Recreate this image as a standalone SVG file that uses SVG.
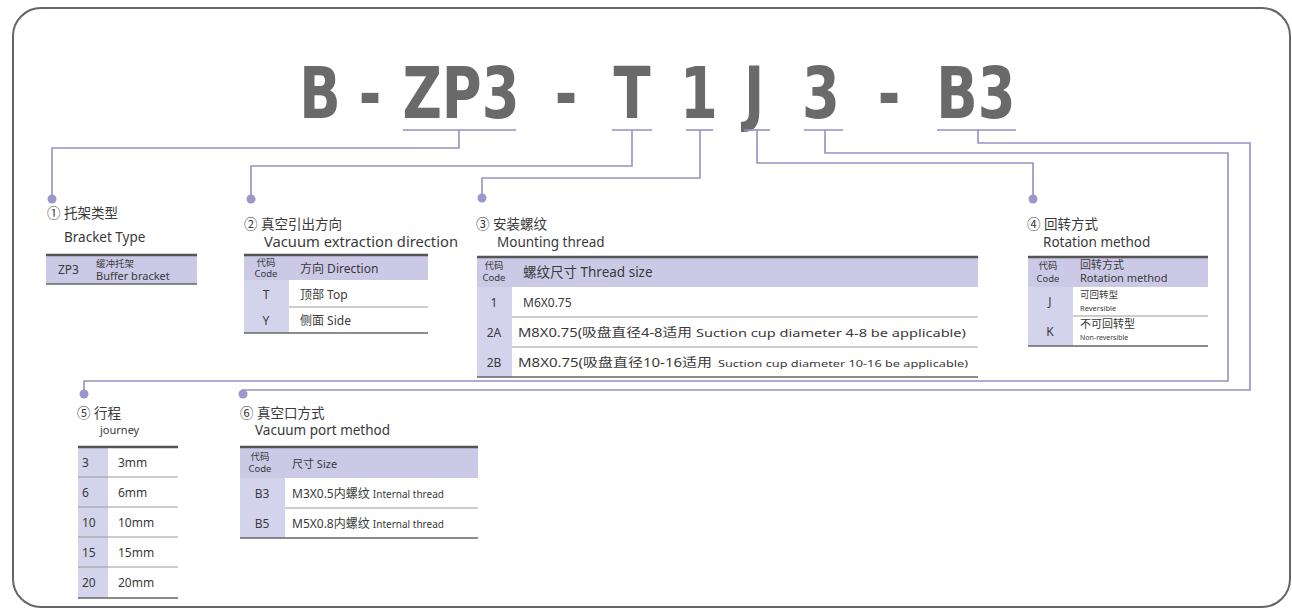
<svg xmlns="http://www.w3.org/2000/svg" width="1292" height="611" viewBox="0 0 1292 611">
<defs>
<style>
.t{font-family:"Noto Sans","Noto Sans CJK SC",sans-serif;fill:#3a3a3a}
.h{font-size:13.5px}
.s{font-size:12px}
.xs{font-size:9.5px}
.c{text-anchor:middle}
.title{font-family:"Liberation Sans Narrow","DejaVu Sans Condensed",sans-serif;font-weight:bold;font-size:72px;fill:#6a6a6a;text-anchor:middle}
.conn{fill:none;stroke:#9391c4;stroke-width:1.6}
.ul{stroke:#9391c4;stroke-width:1.6}
.dot{fill:#9a98cb}
.fill{fill:#cbc9e6}
.fill2{fill:#d4d3ec}
.top{stroke:#555;stroke-width:2.5}
.sep{stroke:#9a9a9a;stroke-width:1}
.bot{stroke:#666;stroke-width:1.6}
</style>
<clipPath id="clip6"><rect x="238" y="440" width="241" height="110"/></clipPath>
</defs>
<rect x="13" y="8" width="1277" height="599" rx="28" ry="28" fill="#fff" stroke="#666" stroke-width="2"/>

<g id="title">
<text class="title" transform="translate(320 118) scale(0.84 1)">B</text>
<text class="title" transform="translate(370 118) scale(0.84 1)">-</text>
<text class="title" transform="translate(461 118) scale(0.84 1)">ZP3</text>
<text class="title" transform="translate(566 118) scale(0.84 1)">-</text>
<text class="title" transform="translate(632 118) scale(0.84 1)">T</text>
<text class="title" transform="translate(699 118) scale(0.84 1)">1</text>
<text class="title" transform="translate(754 118) scale(0.84 1)">J</text>
<text class="title" transform="translate(821 118) scale(0.84 1)">3</text>
<text class="title" transform="translate(889 118) scale(0.84 1)">-</text>
<text class="title" transform="translate(976 118) scale(0.84 1)">B3</text>
</g>

<g id="connectors">
<line class="ul" x1="403" y1="130" x2="516" y2="130"/>
<line class="ul" x1="612" y1="130" x2="652" y2="130"/>
<line class="ul" x1="686" y1="130" x2="713" y2="130"/>
<line class="ul" x1="744" y1="130" x2="770" y2="130"/>
<line class="ul" x1="804" y1="130" x2="843" y2="130"/>
<line class="ul" x1="937" y1="130" x2="1016" y2="130"/>
<path class="conn" d="M459,130 V148 H52 V198"/>
<path class="conn" d="M632,130 V166 H251 V198"/>
<path class="conn" d="M700,130 V178 H482 V197"/>
<path class="conn" d="M757,130 V163 H1033 V198"/>
<path class="conn" d="M825,130 V153 H1228 V381 H84 V393"/>
<path class="conn" d="M978,130 V143 H1250 V390 H243 V393"/>
<circle class="dot" cx="52" cy="199" r="4.5"/>
<circle class="dot" cx="251" cy="199" r="4.5"/>
<circle class="dot" cx="482" cy="198" r="4.5"/>
<circle class="dot" cx="1033" cy="199" r="4.5"/>
<circle class="dot" cx="84" cy="394" r="4.5"/>
<circle class="dot" cx="243" cy="394" r="4.5"/>
</g>

<g id="node1">
<text class="t h" x="47" y="218">① 托架类型</text>
<text class="t h" x="64" y="242">Bracket Type</text>
<rect class="fill" x="46" y="255" width="151" height="29"/>
<line class="top" x1="46" y1="255" x2="197" y2="255"/>
<line class="bot" x1="46" y1="284" x2="197" y2="284"/>
<text class="t s" x="58" y="274">ZP3</text>
<text class="t xs" x="96" y="267">缓冲托架</text>
<text class="t" font-size="11" x="96" y="280">Buffer bracket</text>
</g>

<g id="node2">
<text class="t h" x="244" y="229">② 真空引出方向</text>
<text class="t h" x="264" y="247" textLength="194" lengthAdjust="spacingAndGlyphs">Vacuum extraction direction</text>
<rect class="fill" x="244" y="255" width="184" height="25"/>
<rect class="fill2" x="244" y="280" width="45" height="53"/>
<line class="top" x1="244" y1="255" x2="428" y2="255"/>
<line class="sep" x1="289" y1="307" x2="428" y2="307"/>
<line class="bot" x1="244" y1="333" x2="428" y2="333"/>
<text class="t xs c" x="266" y="266">代码</text>
<text class="t xs c" x="266" y="277">Code</text>
<text class="t s" x="300" y="273">方向 Direction</text>
<text class="t s c" x="266" y="299">T</text>
<text class="t s" x="300" y="299">顶部 Top</text>
<text class="t s c" x="266" y="325">Y</text>
<text class="t s" x="300" y="325">侧面 Side</text>
</g>

<g id="node3">
<text class="t h" x="476" y="229">③ 安装螺纹</text>
<text class="t h" x="497" y="247">Mounting thread</text>
<rect class="fill" x="477" y="257" width="501" height="30"/>
<rect class="fill2" x="477" y="287" width="35" height="90"/>
<line class="top" x1="477" y1="257" x2="978" y2="257"/>
<line class="sep" x1="512" y1="317" x2="978" y2="317"/>
<line class="sep" x1="512" y1="347" x2="978" y2="347"/>
<line class="bot" x1="477" y1="377" x2="978" y2="377"/>
<text class="t xs c" x="494" y="269">代码</text>
<text class="t xs c" x="494" y="281">Code</text>
<text class="t h" x="523" y="277">螺纹尺寸 Thread size</text>
<text class="t s c" x="494" y="307">1</text>
<text class="t s" x="523" y="307">M6X0.75</text>
<text class="t s c" x="494" y="337">2A</text>
<text class="t s" x="518" y="337" textLength="174" lengthAdjust="spacingAndGlyphs">M8X0.75(吸盘直径4-8适用</text>
<text class="t" font-size="11" x="696" y="337" textLength="270" lengthAdjust="spacingAndGlyphs">Suction cup diameter 4-8 be applicable)</text>
<text class="t s c" x="494" y="367">2B</text>
<text class="t s" x="518" y="367" textLength="194" lengthAdjust="spacingAndGlyphs">M8X0.75(吸盘直径10-16适用</text>
<text class="t xs" x="718" y="367" textLength="250" lengthAdjust="spacingAndGlyphs">Suction cup diameter 10-16 be applicable)</text>
</g>

<g id="node4">
<text class="t h" x="1027" y="229">④ 回转方式</text>
<text class="t h" x="1043" y="247">Rotation method</text>
<rect class="fill" x="1028" y="257" width="180" height="30"/>
<rect class="fill2" x="1028" y="287" width="45" height="59"/>
<line class="top" x1="1028" y1="257" x2="1208" y2="257"/>
<line class="sep" x1="1073" y1="316" x2="1208" y2="316"/>
<line class="bot" x1="1028" y1="346" x2="1208" y2="346"/>
<text class="t xs c" x="1048" y="269">代码</text>
<text class="t xs c" x="1048" y="282">Code</text>
<text class="t" font-size="11" x="1080" y="269">回转方式</text>
<text class="t" font-size="11" x="1080" y="282">Rotation method</text>
<text class="t s c" x="1050" y="306">J</text>
<text class="t xs" x="1080" y="298">可回转型</text>
<text class="t" font-size="7.5" x="1080" y="311">Reversible</text>
<text class="t s c" x="1050" y="336">K</text>
<text class="t" font-size="11" x="1080" y="328">不可回转型</text>
<text class="t" font-size="7" x="1080" y="340">Non-reversible</text>
</g>

<g id="node5">
<text class="t h" x="77" y="418">⑤ 行程</text>
<text class="t" font-size="11" x="100" y="434">journey</text>
<rect class="fill2" x="78" y="448" width="30" height="150"/>
<line class="top" x1="78" y1="447" x2="178" y2="447"/>
<line class="sep" x1="78" y1="477" x2="178" y2="477"/>
<line class="sep" x1="78" y1="507" x2="178" y2="507"/>
<line class="sep" x1="78" y1="537" x2="178" y2="537"/>
<line class="sep" x1="78" y1="567" x2="178" y2="567"/>
<line class="bot" x1="78" y1="598" x2="178" y2="598"/>
<text class="t s" x="82" y="467">3</text>
<text class="t s" x="118" y="467">3mm</text>
<text class="t s" x="82" y="497">6</text>
<text class="t s" x="118" y="497">6mm</text>
<text class="t s" x="82" y="527">10</text>
<text class="t s" x="118" y="527">10mm</text>
<text class="t s" x="82" y="557">15</text>
<text class="t s" x="118" y="557">15mm</text>
<text class="t s" x="82" y="587">20</text>
<text class="t s" x="118" y="587">20mm</text>
</g>

<g id="node6">
<text class="t h" x="240" y="418">⑥ 真空口方式</text>
<text class="t h" x="255" y="435">Vacuum port method</text>
<rect class="fill" x="240" y="448" width="238" height="30"/>
<rect class="fill2" x="240" y="478" width="45" height="60"/>
<line class="top" x1="240" y1="447" x2="478" y2="447"/>
<line class="sep" x1="285" y1="508" x2="478" y2="508"/>
<line class="bot" x1="240" y1="538" x2="478" y2="538"/>
<text class="t xs c" x="260" y="460">代码</text>
<text class="t xs c" x="260" y="472">Code</text>
<text class="t" font-size="11" x="292" y="468">尺寸 Size</text>
<text class="t s c" x="262" y="498">B3</text>
<text class="t s c" x="262" y="528">B5</text>
<g clip-path="url(#clip6)">
<text class="t s" x="292" y="498">M3X0.5内螺纹 <tspan font-size="10">Internal thread</tspan></text>
<text class="t s" x="292" y="528">M5X0.8内螺纹 <tspan font-size="10">Internal thread</tspan></text>
</g>
</g>
</svg>
